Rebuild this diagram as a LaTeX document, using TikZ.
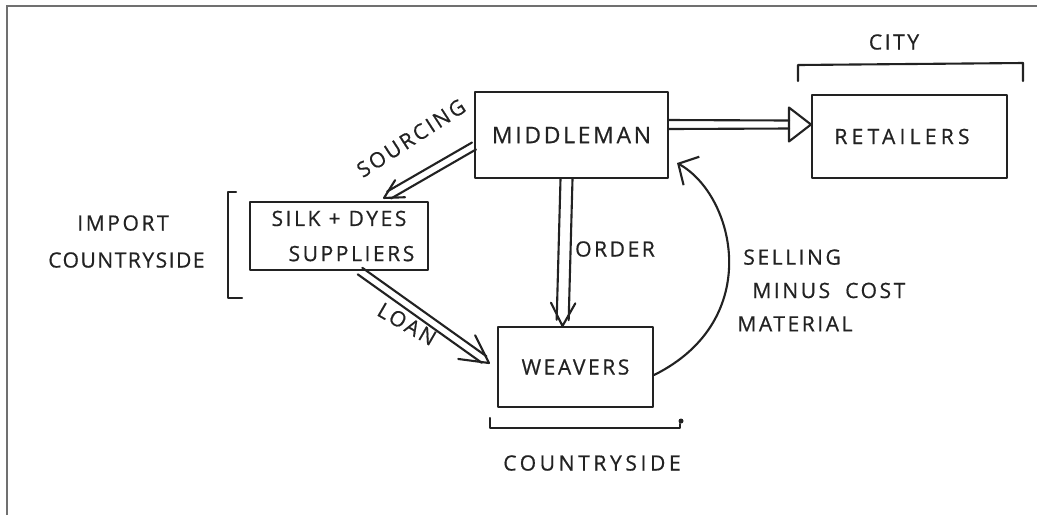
\documentclass[tikz,border=0pt]{standalone}
\usepackage{fontspec}
\setmainfont{Open Sans}[LetterSpace=12, FakeBold=0.6]
\newfontfamily\wideA{Open Sans}[LetterSpace=20, FakeBold=0.6]
\newfontfamily\wideB{Open Sans}[LetterSpace=17, FakeBold=0.6]
\newfontfamily\narrowC{Open Sans}[LetterSpace=7, FakeBold=0.6]
\usetikzlibrary{calc,arrows.meta}
\definecolor{inkc}{HTML}{222222}
\definecolor{framec}{HTML}{707070}
\newcommand\hand{\fontsize{12}{19}\selectfont}
\newcommand\handbig{\fontsize{13}{19}\selectfont}
\tikzset{
  ink/.style={draw=inkc, line width=1.2pt, line cap=round, line join=round},
  box/.style={ink, rectangle, inner sep=0pt, font=\hand, text=inkc, align=center},
  lbl/.style={font=\hand, text=inkc, inner sep=0pt, align=left},
}
% two parallel rails from #1 to #2 (half gap #3) ending in an open barb of length #4
\newcommand\twinarrow[4]{%
  \coordinate (tw-e) at ($(#2)!0.12cm!(#1)$);
  \draw[ink] ($(#1)!#3!90:(#2)$) -- ($(tw-e)!#3!-90:(#1)$);
  \draw[ink] ($(#1)!#3!-90:(#2)$) -- ($(tw-e)!#3!90:(#1)$);
  \draw[ink] ($(#2)!#4!28:(#1)$) -- (#2) -- ($(#2)!#4!-28:(#1)$);
}
\begin{document}
\begin{tikzpicture}[x=0.02cm, y=-0.02cm]
  \useasboundingbox (0,0) rectangle (1037,515);
  % sheet edge
  \draw[draw=framec, line width=0.9pt] (7,515) -- (7,6) -- (1037,6);

  % boxes
  \node[box, font=\handbig, minimum width=3.86cm, minimum height=1.72cm] (mid) at (571.5,135) {MIDDLEMAN};
  \node[box, font=\wideA\hand, minimum width=3.9cm, minimum height=1.66cm] (ret) at (909.5,136.5) {RETAILERS\hspace*{0.3cm}};
  \node[box, minimum width=3.56cm, minimum height=1.36cm] (sup) at (339,236) {SILK + DYES\\[1pt]\hspace*{0.5cm}SUPPLIERS};
  \node[box, minimum width=3.1cm, minimum height=1.6cm] (wea) at (575.5,367) {WEAVERS};

  % brackets
  \draw[ink] (798,81) -- (798,65) -- (1023,63) -- (1023,81);
  \draw[ink] (236,192) -- (228,192) -- (228,298) -- (242,298);
  \draw[ink] (490,418) -- (490,428) -- (680,428) -- (680,424);
  \fill[inkc] (681,421) circle (0.05cm);

  % middleman -> silk + dyes suppliers
  \coordinate (srcS) at ($(mid.west)+(0,11)$);
  \coordinate (srcT) at ($(sup.north)+(45,-3)$);
  \twinarrow{srcS}{srcT}{0.08cm}{0.42cm}

  % suppliers -> weavers
  \coordinate (lnS) at ($(sup.south)+(21,0)$);
  \coordinate (lnT) at ($(wea.west)+(-8,-4)$);
  \twinarrow{lnS}{lnT}{0.08cm}{0.62cm}

  % middleman -> weavers
  \coordinate (orS) at ($(mid.south)+(-5,0)$);
  \coordinate (orT) at ($(wea.north)+(-13,0)$);
  \twinarrow{orS}{orT}{0.12cm}{0.52cm}

  % middleman -> retailers, open triangle head
  \coordinate (rtS) at ($(mid.east)+(0,-10)$);
  \coordinate (rtT) at ($(ret.west)+(0,-12)$);
  \draw[ink] ($(rtS)+(0,-5)$) -- ($(rtT)+(-22,-4)$);
  \draw[ink] ($(rtS)+(0,4)$) -- ($(rtT)+(-22,4)$);
  \draw[ink] ($(rtT)+(-22,-17)$) -- (rtT) -- ($(rtT)+(-22,17)$) -- cycle;

  % weavers -> middleman, curved
  \coordinate (slS) at ($(wea.east)+(0,8)$);
  \coordinate (slT) at ($(mid.east)+(8,28)$);
  \draw[ink, -{Straight Barb[length=0.3cm, width=0.65cm, line width=1.2pt]}]
    (slS) .. controls (765,320) and (735,195) .. (slT);

  % labels
  \node[lbl] (lcity) at (894,42) {CITY};
  \node[lbl, rotate=33] (lsrc) at (411,138) {SOURCING};
  \node[lbl, rotate=-30] (lloan) at (407,324) {LOAN};
  \node[lbl] (lord) at (615,249) {ORDER};
  \node[lbl, anchor=north west] (lsell) at (737,249)
    {\hspace*{0.12cm}SELLING\\\hspace*{0.3cm}MINUS\hspace{0.3cm}COST\\MATERIAL};
  \node[lbl, anchor=west] (limp) at (77,223) {IMPORT};
  \node[lbl, anchor=east, font=\narrowC\hand] (lctry) at (205,260) {COUNTRYSIDE};
  \node[lbl, font=\wideB\hand] (lcs) at (592,463) {COUNTRYSIDE};
\end{tikzpicture}
\end{document}
